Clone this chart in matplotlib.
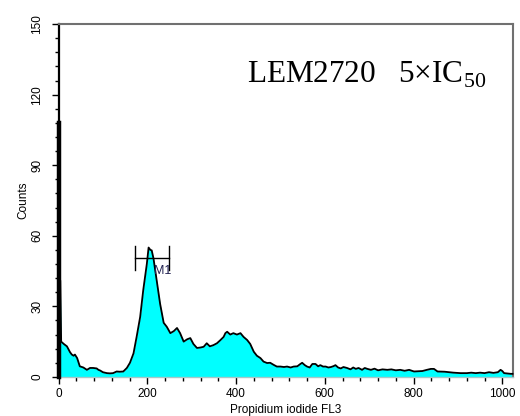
import numpy as np
import matplotlib
matplotlib.use("Agg")
import matplotlib.pyplot as plt
from matplotlib.ticker import MultipleLocator

# histogram: channel, counts
channel = [0, 1, 1.5, 4, 6, 12, 19, 26, 30, 34, 37, 42, 48, 56, 64, 71, 78, 86, 90, 94,
           100, 109, 116, 123, 131, 138, 146, 154, 161, 169, 176, 184, 191, 199, 203, 207,
           210, 214, 222, 229, 237, 244, 252, 260, 267, 274, 282, 290, 297, 304, 312, 320,
           327, 334, 341, 349, 357, 364, 372, 376, 380, 387, 394, 402, 410, 417, 425, 432,
           440, 447, 455, 462, 470, 477, 485, 492, 500, 508, 515, 523, 530, 538, 545, 549,
           555, 560, 566, 572, 579, 585, 590, 596, 602, 608, 614, 620, 624, 630, 636, 642,
           650, 658, 664, 670, 676, 684, 690, 696, 704, 712, 720, 730, 741, 750, 760, 770,
           780, 790, 801, 810, 820, 830, 839, 846, 854, 870, 880, 890, 906, 920, 930, 940,
           950, 960, 970, 980, 990, 996, 1000, 1004, 1019, 1023]
counts = [108, 108, 41, 41, 15, 14, 13, 10.5, 9.5, 9, 9.5, 8, 4.5, 4, 3, 3.8, 3.8, 3.6, 3, 2.7,
          2, 1.6, 1.5, 1.6, 2.3, 2.2, 2.3, 3.8, 6, 10, 17, 25.5, 37, 48, 55, 54,
          53.8, 50.4, 40, 31, 23, 21.3, 18.6, 19.5, 20.8, 18.6, 15, 16, 16.5, 14, 12.3, 12.5,
          12.8, 14.3, 13, 13.5, 14.3, 15.5, 17, 18.6, 19.2, 18, 18.6, 18, 18.6, 17, 15.7, 14,
          10.7, 9, 8, 6.5, 5.9, 6, 5.1, 4.4, 4.4, 4.2, 4.4, 4, 4.4, 4.5, 5.5, 6,
          5, 4.4, 4, 5.5, 5.5, 4.5, 5, 4.4, 4.4, 4, 4.2, 4.6, 5, 4, 3.6, 4.2,
          3.8, 3.2, 4, 3.4, 3.8, 3, 3.8, 3.4, 3, 3.5, 2.8, 3.2, 3, 3.2, 2.8, 3,
          2.6, 3, 2.3, 2.4, 2.5, 3, 3.4, 3.4, 2.3, 2.2, 2, 1.8, 1.6, 1.6, 1.8, 1.6,
          1.8, 1.6, 2, 1.7, 2, 3, 2.5, 1.6, 1.3, 1.3]

m1_range = (173, 248)
m1_level = 50.5
title = "LEM2720   5×IC$_{\\mathregular{50}}$"

plt.rcParams["font.family"] = ["Liberation Sans", "DejaVu Sans"]
plt.rcParams["mathtext.fontset"] = "custom"
plt.rcParams["mathtext.rm"] = "Liberation Serif"

fig = plt.figure(figsize=(5.2, 4.16), dpi=100)
ax = fig.add_axes([0.1125, 0.094, 0.874, 0.848])

x = np.array(channel); y = np.array(counts)
ax.fill_between(x, 0, y, color="#00ffff", lw=0)
ax.plot(x, y, color="black", lw=1.3, clip_on=False, zorder=3)
# first channel spike sits on the axis
ax.plot([0, 0], [0, counts[0]], color="black", lw=3.2, clip_on=False, zorder=4)

# M1 marker
ax.plot(m1_range, [m1_level, m1_level], color="black", lw=1)
for xm in m1_range:
    ax.plot([xm, xm], [m1_level - 5, m1_level + 5], color="black", lw=1)
ax.text(216, 45, "M1", fontsize=9, color="#202050", va="center", ha="left")

ax.text(425, 125, title, family="Liberation Serif", fontsize=22.5, ha="left", va="baseline")

ax.set_xlim(0, 1024); ax.set_ylim(0, 150)
ax.xaxis.set_major_locator(MultipleLocator(200)); ax.xaxis.set_minor_locator(MultipleLocator(40))
ax.yaxis.set_major_locator(MultipleLocator(30)); ax.yaxis.set_minor_locator(MultipleLocator(6))
ax.tick_params(which="major", length=5, width=1, labelsize=8.5, direction="out")
ax.tick_params(which="minor", length=3, width=1, direction="out")
for lab in ax.get_yticklabels():
    lab.set_rotation(90); lab.set_va("center")
ax.tick_params(axis="y", pad=6)
ax.tick_params(axis="x", pad=3)

ax.spines["left"].set_linewidth(1.6)
for s in ("top", "right"):
    ax.spines[s].set_color("#707070"); ax.spines[s].set_linewidth(1.5)
ax.spines["bottom"].set_color("#a8c8c8"); ax.spines["bottom"].set_linewidth(1)

ax.set_xlabel("Propidium iodide FL3", fontsize=8.5, labelpad=3)
ax.set_ylabel("Counts", fontsize=8.5, labelpad=1)

fig.savefig("out.png", dpi=100)
